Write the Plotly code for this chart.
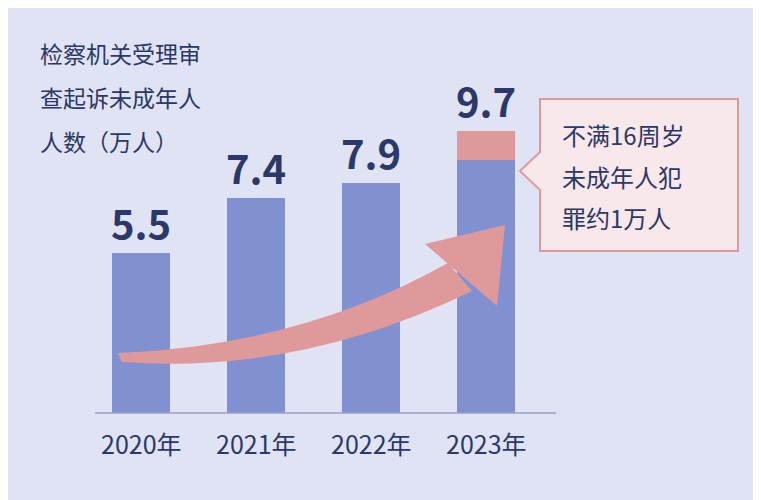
import plotly.graph_objects as go

years = ["2020年", "2021年", "2022年", "2023年"]
totals = [5.5, 7.4, 7.9, 9.7]
under16 = [0, 0, 0, 1.0]
base = [t - u for t, u in zip(totals, under16)]

navy = "#2b3868"
blue = "#8090d0"
salmon = "#e0999a"
font = "Noto Sans CJK SC"

# page margin offset of the browser
OX, OY = 8, 7


def P(px, py):
    return (px - OX) / 761, 1 - (py - OY) / 500


xs = list(range(len(years)))
fig = go.Figure()
fig.add_trace(go.Bar(x=xs, y=base, width=0.5, marker_color=blue, marker_line_width=0))
fig.add_trace(go.Bar(x=xs, y=under16, width=0.5, marker_color=salmon, marker_line_width=0))

# curved arrow
a = P(118, 352); c1 = P(300, 345); b = P(448, 262)
d = P(472, 290); c2 = P(300, 374); e = P(122, 361)
body = (f"M{a[0]},{a[1]} Q{c1[0]},{c1[1]} {b[0]},{b[1]} L{d[0]},{d[1]} "
        f"Q{c2[0]},{c2[1]} {e[0]},{e[1]} Z")
h1, h2, h3 = P(425, 243), P(505, 224), P(497, 305)
head = f"M{h1[0]},{h1[1]} L{h2[0]},{h2[1]} L{h3[0]},{h3[1]} Z"
r0, r1 = P(540, 98), P(738, 250)
t1, t2, t3 = P(541, 150), P(520, 170), P(541, 190)
ptr = f"M{t1[0]},{t1[1]} L{t2[0]},{t2[1]} L{t3[0]},{t3[1]}"
ax0, ax1 = P(95, 412), P(556, 412)

shapes = [
    dict(type="path", xref="paper", yref="paper", path=body, fillcolor=salmon, line_width=0),
    dict(type="path", xref="paper", yref="paper", path=head, fillcolor=salmon, line_width=0),
    dict(type="rect", xref="paper", yref="paper", x0=r0[0], y0=r0[1], x1=r1[0], y1=r1[1],
         fillcolor="#f9e8ea", line=dict(color=salmon, width=2)),
    dict(type="path", xref="paper", yref="paper", path=ptr, fillcolor="#f9e8ea",
         line=dict(color=salmon, width=2)),
    dict(type="line", xref="paper", yref="paper", x0=ax0[0], y0=ax0[1], x1=ax1[0], y1=ax1[1],
         line=dict(color="#9aa3c8", width=1.5)),
]

ann = []
for x, t, y in zip(xs, totals, years):
    ann.append(dict(x=x, y=t, text=f"<b>{t}</b>", showarrow=False, yanchor="bottom", yshift=0,
                    font=dict(size=40, color=navy, family=font)))
    ann.append(dict(x=x, y=0, text=y, showarrow=False, yanchor="top", yshift=-10,
                    font=dict(size=25, color=navy, family=font)))
for i, line in enumerate(["检察机关受理审", "查起诉未成年人", "人数（万人）"]):
    px, py = P(38, 52 + 44 * i)
    ann.append(dict(xref="paper", yref="paper", x=px, y=py, text=line,
                    showarrow=False, xanchor="left", yanchor="middle",
                    font=dict(size=23, color=navy, family=font)))
for i, line in enumerate(["不满16周岁", "未成年人犯", "罪约1万人"]):
    px, py = P(560, 133 + 42 * i)
    ann.append(dict(xref="paper", yref="paper", x=px, y=py, text=line,
                    showarrow=False, xanchor="left", yanchor="middle",
                    font=dict(size=24, color=navy, family=font)))

fig.update_layout(
    width=761, height=500, margin=dict(l=0, r=0, t=0, b=0),
    barmode="stack", showlegend=False,
    paper_bgcolor="#dfe3f4", plot_bgcolor="#dfe3f4",
    xaxis=dict(range=[-1.226 + OX / 115, 5.391 + OX / 115], visible=False),
    yaxis=dict(range=[-3.02 - OY / 29.1, 14.16 - OY / 29.1], visible=False),
    shapes=shapes, annotations=ann,
)
fig.write_html("out.html")
